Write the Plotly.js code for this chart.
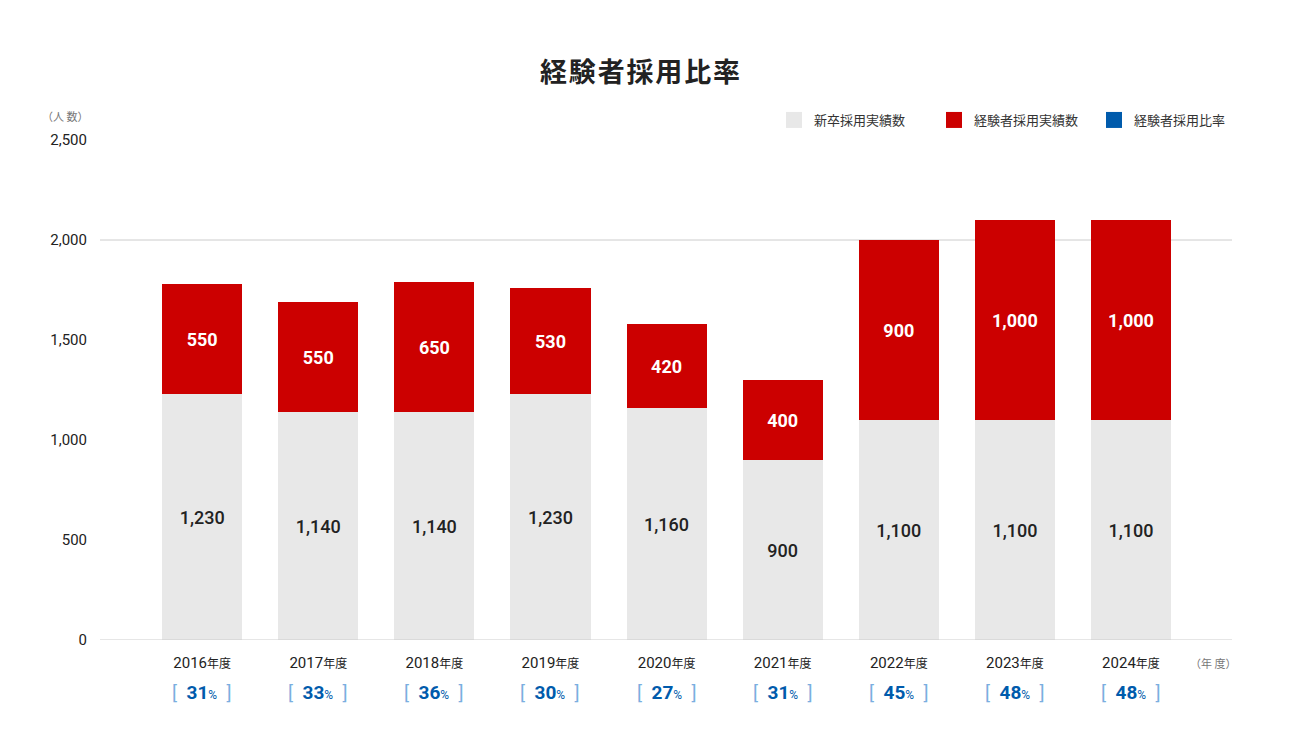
<!DOCTYPE html>
<html><head><meta charset="utf-8">
<script src="https://cdn.plot.ly/plotly-3.0.1.min.js"></script>
<style>html,body{margin:0;padding:0;background:#fff}#chart{width:1313px;height:749px}</style>
</head><body><div id="chart"></div>
<script>
const years = ["2016","2017","2018","2019","2020","2021","2022","2023","2024"];
const newGrad = [1230,1140,1140,1230,1160,900,1100,1100,1100];
const experienced = [550,550,650,530,420,400,900,1000,1000];
const ratio = [31,33,36,30,27,31,45,48,48];
const yTicks = [0,500,1000,1500,2000,2500];
const seriesNames = ['新卒採用実績数','経験者採用実績数','経験者採用比率'];
const seriesColors = ['#e8e8e8','#cc0000','#005bac'];

const NUM = 'Roboto, sans-serif';
const JP = 'Noto Sans CJK JP, sans-serif';

const traces = [
  {type:'bar', name:seriesNames[0], legendgroup:'a', showlegend:false, x:years, y:newGrad, marker:{color:seriesColors[0]},
   texttemplate:'%{y:,}', textposition:'inside', insidetextanchor:'middle',
   textfont:{family:NUM, size:18, color:'#222', weight:500}, hoverinfo:'y'},
  {type:'bar', name:seriesNames[1], legendgroup:'b', showlegend:false, x:years, y:experienced, marker:{color:seriesColors[1]},
   texttemplate:'%{y:,}', textposition:'inside', insidetextanchor:'middle',
   textfont:{family:NUM, size:18, color:'#fff', weight:700}, hoverinfo:'y'}
];
// legend entries (square swatches)
['a','b','c'].forEach((g,i)=>{
  traces.push({type:'scatter', mode:'markers', name:seriesNames[i], legendgroup:g, x:[years[0]], y:[null],
    marker:{symbol:'square', size:16, color:seriesColors[i]}, hoverinfo:'skip'});
});

const annotations = years.map((yr,i)=>({
  xref:'x', yref:'paper', x:i, y:-0.104, xanchor:'center', yanchor:'middle', showarrow:false,
  text:'<span style="color:#7aaee0">[</span>  <b>'+ratio[i]+'</b><span style="font-size:12px">%</span>  <span style="color:#7aaee0">]</span>',
  font:{family:NUM, color:'#005bac', size:19}
}));
annotations.push({xref:'paper', yref:'paper', x:-0.031, y:1.048, xanchor:'center', yanchor:'middle', showarrow:false,
  text:'（人 数）', font:{family:JP, size:11, color:'#777'}});
annotations.push({xref:'paper', yref:'paper', x:0.983, y:-0.046, xanchor:'center', yanchor:'middle', showarrow:false,
  text:'（年 度）', font:{family:JP, size:11, color:'#777'}});

const titleChars = '経験者採用比率'.split('');
const layout = {
  width:1313, height:749,
  margin:{l:100, r:81, t:140, b:109},
  paper_bgcolor:'#fff', plot_bgcolor:'#fff',
  barmode:'stack', bargap:0.31,
  title:{text:'<b>'+titleChars.join('<span style="font-size:8px"> </span>')+'</b>', font:{family:JP, size:27, color:'#222'}, x:640/1313, xref:'container', xanchor:'center', y:1-73/749, yref:'container', yanchor:'middle'},
  showlegend:true,
  legend:{orientation:'h', x:(774-100)/1132, xanchor:'left', y:1.04, yanchor:'middle', font:{family:JP, size:13, color:'#333'},
    traceorder:'normal', itemclick:false, entrywidth:115, entrywidthmode:'pixels'},
  xaxis:{type:'category', tickmode:'array', tickvals:years,
    ticktext:years.map(y=>y+'<span style="font-size:12px;font-family:Noto Sans CJK JP">年度</span>'),
    tickfont:{family:NUM, size:15, color:'#222'}, showgrid:false, zeroline:false, showline:false, ticks:'',
    ticklabelstandoff:12, range:[-0.88, 8.87], fixedrange:true},
  yaxis:{range:[0,2500], tickvals:yTicks, ticktext:yTicks.map(v=>v.toLocaleString('en-US')),
    tickfont:{family:NUM, size:15, color:'#222'}, showgrid:false, zeroline:false, showline:false, ticks:'',
    ticklabelstandoff:12, fixedrange:true},
  shapes:[
    {type:'line', xref:'paper', yref:'y', x0:0, x1:1, y0:2000, y1:2000, line:{color:'#cccccc', width:1}, layer:'below'},
    {type:'line', xref:'paper', yref:'y', x0:0, x1:1, y0:0, y1:0, line:{color:'#cccccc', width:1}, layer:'above'}
  ],
  annotations:annotations
};
Plotly.newPlot('chart', traces, layout, {displayModeBar:false, staticPlot:true});
</script></body></html>
